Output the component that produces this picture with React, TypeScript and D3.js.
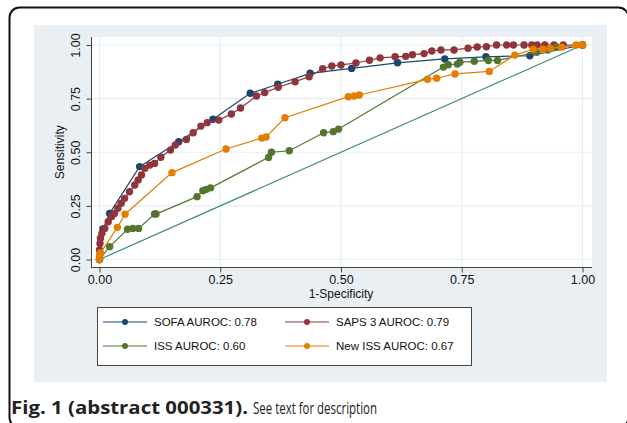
import { useRef, useEffect } from "react";
import * as d3 from "d3";

type Pt = [number, number];

// ROC points: [1-specificity, sensitivity]
const sofa: Pt[] = [
  [0, 0], [0.007, 0.142], [0.021, 0.215], [0.083, 0.433], [0.164, 0.549],
  [0.235, 0.654], [0.312, 0.775], [0.369, 0.817], [0.436, 0.868], [0.522, 0.891],
  [0.617, 0.917], [0.715, 0.935], [0.8, 0.945], [0.891, 0.95], [1, 1],
];

const saps3: Pt[] = [
  [0, 0], [0, 0.013], [0, 0.044], [0.001, 0.075], [0.002, 0.099], [0.005, 0.122],
  [0.011, 0.145], [0.018, 0.176], [0.025, 0.2], [0.031, 0.215], [0.038, 0.239],
  [0.045, 0.262], [0.052, 0.285], [0.062, 0.316], [0.073, 0.347], [0.08, 0.371],
  [0.087, 0.394], [0.094, 0.425], [0.104, 0.44], [0.114, 0.448], [0.127, 0.477],
  [0.147, 0.51], [0.157, 0.534], [0.18, 0.56], [0.194, 0.591], [0.21, 0.622],
  [0.223, 0.638], [0.247, 0.65], [0.273, 0.678], [0.292, 0.706], [0.325, 0.762],
  [0.342, 0.778], [0.37, 0.803], [0.405, 0.829], [0.434, 0.852], [0.462, 0.889],
  [0.481, 0.902], [0.5, 0.907], [0.531, 0.916], [0.559, 0.929], [0.581, 0.94],
  [0.612, 0.945], [0.634, 0.947], [0.648, 0.955], [0.672, 0.96], [0.688, 0.972],
  [0.707, 0.977], [0.734, 0.977], [0.763, 0.985], [0.782, 0.991], [0.801, 0.992],
  [0.822, 1], [0.843, 1], [0.857, 1], [0.879, 1], [0.895, 1], [0.906, 1],
  [0.922, 1], [0.941, 1], [0.96, 1], [1, 1],
];

const iss: Pt[] = [
  [0, 0], [0.021, 0.06], [0.058, 0.141], [0.069, 0.145], [0.081, 0.145],
  [0.114, 0.212], [0.117, 0.212], [0.202, 0.293], [0.214, 0.321], [0.221, 0.327],
  [0.23, 0.334], [0.35, 0.476], [0.356, 0.5], [0.393, 0.507], [0.464, 0.591],
  [0.484, 0.596], [0.495, 0.608], [0.712, 0.897], [0.722, 0.908], [0.741, 0.911],
  [0.746, 0.92], [0.776, 0.924], [0.805, 0.928], [0.824, 0.928], [0.905, 0.966],
  [0.928, 0.977], [0.947, 0.99], [1, 1],
];

const newIss: Pt[] = [
  [0, 0], [0, 0.02], [0.002, 0.03], [0.037, 0.15], [0.053, 0.211], [0.15, 0.405],
  [0.262, 0.515], [0.336, 0.566], [0.345, 0.571], [0.384, 0.661], [0.515, 0.759],
  [0.527, 0.762], [0.538, 0.767], [0.679, 0.84], [0.698, 0.845], [0.736, 0.865],
  [0.807, 0.877], [0.86, 0.953], [0.898, 0.98], [0.918, 0.98], [0.933, 0.985],
  [0.957, 0.99], [0.987, 1], [1, 1],
];

const reference: Pt[] = [[0, 0], [1, 1]];

const ticks = [0, 0.25, 0.5, 0.75, 1];

const series = [
  { name: "SOFA AUROC: 0.78", data: sofa, color: "#1a476f" },
  { name: "SAPS 3 AUROC: 0.79", data: saps3, color: "#90353b" },
  { name: "ISS AUROC: 0.60", data: iss, color: "#55752f" },
  { name: "New ISS AUROC: 0.67", data: newIss, color: "#e37e00" },
];

const W = 627;
const H = 423;
const FONT = "'Liberation Sans', Arial, sans-serif";

export default function App() {
  const svgRef = useRef<SVGSVGElement>(null);

  useEffect(() => {
    if (!svgRef.current) return;
    const svg = d3.select(svgRef.current);
    svg.selectAll("*").remove();

    // Outer frame (runs off the bottom/right of the crop)
    svg.append("rect")
      .attr("x", 9.5).attr("y", 7.5)
      .attr("width", 619).attr("height", 420)
      .attr("rx", 10)
      .attr("fill", "#fff")
      .attr("stroke", "#111")
      .attr("stroke-width", 2);

    // Graph region
    svg.append("rect")
      .attr("x", 34).attr("y", 25)
      .attr("width", 573).attr("height", 357)
      .attr("fill", "#e9eff3");

    // Plot region
    svg.append("rect")
      .attr("x", 91).attr("y", 37)
      .attr("width", 501).attr("height", 230)
      .attr("fill", "#fff");

    const x = d3.scaleLinear().domain([0, 1]).range([99.5, 582.5]);
    const y = d3.scaleLinear().domain([0, 1]).range([259.5, 45]);

    // Grid lines
    const grid = svg.append("g").attr("stroke", "#e6eff1").attr("stroke-width", 1.2);
    ticks.forEach(t => {
      grid.append("line")
        .attr("x1", x(t)).attr("x2", x(t))
        .attr("y1", 37).attr("y2", 267);
      grid.append("line")
        .attr("x1", 91).attr("x2", 592)
        .attr("y1", y(t)).attr("y2", y(t));
    });

    // Axes
    const xAxis = svg.append("g")
      .attr("transform", "translate(0,267.5)")
      .call(d3.axisBottom(x).tickValues(ticks).tickFormat(d3.format(".2f")).tickSize(5).tickSizeOuter(0));
    xAxis.select(".domain").attr("stroke", "#444").attr("d", "M91,0H592");
    xAxis.selectAll(".tick line").attr("stroke", "#444");
    xAxis.selectAll(".tick text")
      .attr("fill", "#111").attr("font-size", "12.5px").attr("font-family", FONT).attr("dy", "0.7em");

    const yAxis = svg.append("g")
      .attr("transform", "translate(91.5,0)")
      .call(d3.axisLeft(y).tickValues(ticks).tickFormat(d3.format(".2f")).tickSize(5).tickSizeOuter(0));
    yAxis.select(".domain").attr("stroke", "#444").attr("d", "M0,37V267");
    yAxis.selectAll(".tick line").attr("stroke", "#444");
    yAxis.selectAll(".tick text")
      .attr("fill", "#111").attr("font-size", "12.5px").attr("font-family", FONT)
      .attr("x", 0).attr("dy", 0).attr("text-anchor", "middle")
      .attr("transform", "translate(-12,0) rotate(-90)");

    svg.append("text")
      .attr("x", 341).attr("y", 298)
      .attr("text-anchor", "middle")
      .attr("font-size", "12px").attr("font-family", FONT).attr("fill", "#111")
      .text("1-Specificity");

    svg.append("text")
      .attr("transform", `translate(64,${y(0.5)}) rotate(-90)`)
      .attr("text-anchor", "middle")
      .attr("font-size", "12px").attr("font-family", FONT).attr("fill", "#111")
      .text("Sensitivity");

    const line = d3.line<Pt>().x(d => x(d[0])).y(d => y(d[1]));

    // Reference line
    svg.append("path")
      .datum(reference)
      .attr("fill", "none")
      .attr("stroke", "#3f8a80")
      .attr("stroke-width", 1.2)
      .attr("d", line);

    series.forEach(s => {
      svg.append("path")
        .datum(s.data)
        .attr("fill", "none")
        .attr("stroke", s.color)
        .attr("stroke-width", 1.2)
        .attr("d", line);
      svg.append("g")
        .selectAll("circle")
        .data(s.data)
        .join("circle")
        .attr("cx", d => x(d[0]))
        .attr("cy", d => y(d[1]))
        .attr("r", 3.7)
        .attr("fill", s.color);
    });

    // Legend
    svg.append("rect")
      .attr("x", 97.5).attr("y", 307.5)
      .attr("width", 374).attr("height", 58)
      .attr("fill", "#fff")
      .attr("stroke", "#444").attr("stroke-width", 1);

    const legendPos = [
      { lx: 103, ty: 322 }, { lx: 285, ty: 322 },
      { lx: 103, ty: 346 }, { lx: 285, ty: 346 },
    ];
    series.forEach((s, i) => {
      const p = legendPos[i];
      const g = svg.append("g");
      g.append("line")
        .attr("x1", p.lx).attr("x2", p.lx + 44)
        .attr("y1", p.ty).attr("y2", p.ty)
        .attr("stroke", s.color).attr("stroke-width", 1.2);
      g.append("circle")
        .attr("cx", p.lx + 22).attr("cy", p.ty).attr("r", 3)
        .attr("fill", s.color);
      g.append("text")
        .attr("x", p.lx + 51).attr("y", p.ty)
        .attr("dy", "0.36em")
        .attr("font-size", "11.5px").attr("font-family", FONT).attr("fill", "#111")
        .text(s.name);
    });

    // Caption
    svg.append("text")
      .attr("x", 11).attr("y", 414)
      .attr("font-size", "17px").attr("font-family", "'Open Sans', sans-serif")
      .attr("font-weight", "bold").attr("fill", "#222")
      .attr("textLength", 237).attr("lengthAdjust", "spacingAndGlyphs")
      .text("Fig. 1 (abstract 000331).");
    svg.append("text")
      .attr("x", 253).attr("y", 414)
      .attr("font-size", "17px").attr("font-family", "'Open Sans', sans-serif")
      .attr("fill", "#222")
      .attr("textLength", 124).attr("lengthAdjust", "spacingAndGlyphs")
      .text("See text for description");
  }, []);

  return (
    <svg
      ref={svgRef}
      width={W}
      height={H}
      viewBox={`0 0 ${W} ${H}`}
      style={{ position: "absolute", left: 0, top: 0, display: "block" }}
    />
  );
}
